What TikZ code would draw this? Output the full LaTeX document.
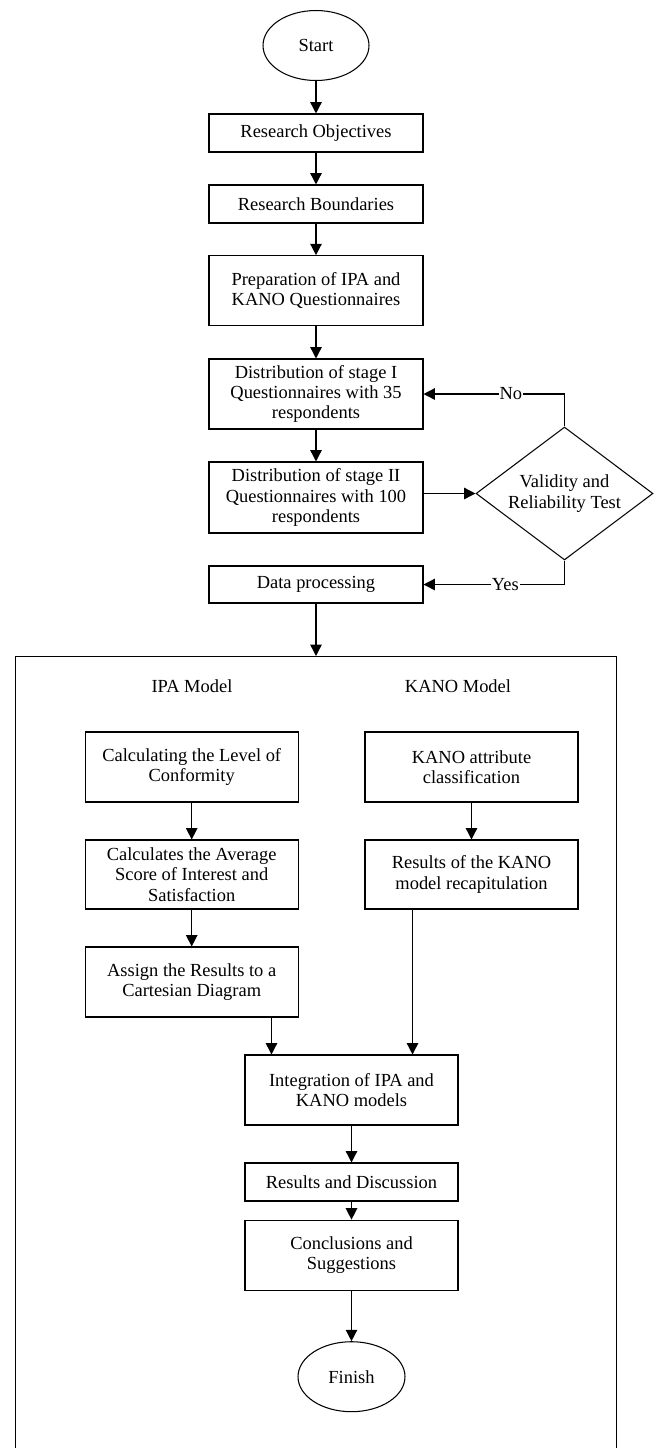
\documentclass[tikz,border=0pt]{standalone}
\usepackage{fontspec}
\setmainfont{Liberation Serif}
\usetikzlibrary{shapes.geometric}
\usetikzlibrary{arrows.meta}

\begin{document}
\begin{tikzpicture}[x=0.02cm,y=-0.02cm]
	\tikzstyle{every node}=[font=\fontsize{10.5}{11.5}\selectfont]
	\tikzstyle{procbox}=[rectangle,draw,line width=0.6pt,minimum width=4.28cm,align=center,inner sep=1pt]
	\tikzstyle{terminal}=[ellipse,draw,line width=0.6pt,minimum width=2.12cm,minimum height=1.4cm]
	\tikzstyle{decision}=[diamond,draw,line width=0.6pt,aspect=1.33,minimum width=3.54cm,minimum height=2.66cm,align=center,inner sep=0pt]
	\tikzstyle{flow}=[-{Triangle[length=6.5pt,width=6.5pt]},line width=0.8pt]
	\tikzstyle{answer}=[fill=white,inner sep=0.5pt]
	\useasboundingbox (0,0) rectangle (654,1448);
	\clip (0,0) rectangle (654,1448);
	% main chain
	\node[terminal] (start) at (316,45.5) {Start};
	\node[procbox,minimum height=0.76cm] (obj) at (316,133) {Research Objectives};
	\node[procbox,minimum height=0.76cm] (bound) at (316,204) {Research Boundaries};
	\node[procbox,minimum height=1.4cm] (prep) at (316,290.7) {Preparation of IPA and\\KANO Questionnaires};
	\node[procbox,minimum height=1.4cm] (distI) at (316,394) {Distribution of stage I\\Questionnaires with 35\\respondents};
	\node[procbox,minimum height=1.42cm] (distII) at (316,497.5) {Distribution of stage II\\Questionnaires with 100\\respondents};
	\node[decision] (test) at (564.5,493.5) {Validity and\\Reliability Test};
	\node[procbox,minimum height=0.74cm] (data) at (316,584.5) {Data processing};
	% frame of the two models
	\node[draw,line width=0.6pt,minimum width=12.04cm,minimum height=16.2cm,anchor=north,inner sep=0pt] (frame) at (316,656) {};
	\node (ipa) at (192,686) {IPA Model};
	\node (kano) at (458,686) {KANO Model};
	\node[procbox,minimum width=4.26cm,minimum height=1.4cm] (conf) at (191.7,767) {Calculating the Level of\\Conformity};
	\node[procbox,minimum width=4.26cm,minimum height=1.38cm] (avg) at (191.7,874.5) {Calculates the Average\\Score of Interest and\\Satisfaction};
	\node[procbox,minimum width=4.26cm,minimum height=1.4cm] (assign) at (191.7,982) {Assign the Results to a\\Cartesian Diagram};
	\node[procbox,minimum width=4.26cm,minimum height=1.4cm] (kattr) at (471.5,767) {KANO attribute\\classification};
	\node[procbox,minimum width=4.26cm,minimum height=1.38cm] (kres) at (471.5,874.5) {Results of the KANO\\model recapitulation};
	\node[procbox,minimum width=4.26cm,minimum height=1.4cm] (integ) at (351.5,1090) {Integration of IPA and\\KANO models};
	\node[procbox,minimum width=4.26cm,minimum height=0.76cm] (resdisc) at (351.5,1182) {Results and Discussion};
	\node[procbox,minimum width=4.26cm,minimum height=1.41cm] (concl) at (351.5,1255.4) {Conclusions and\\Suggestions};
	\node[terminal,minimum width=2.14cm] (finish) at (351.5,1376.7) {Finish};
	% connectors
	\draw[flow] (start) -- (obj);
	\draw[flow] (obj) -- (bound);
	\draw[flow] (bound) -- (prep);
	\draw[flow] (prep) -- (distI);
	\draw[flow] (distI) -- (distII);
	\draw[flow] (distII.east |- test.west) -- (test.west);
	\draw[flow] (test.north) |- (distI.east) node[answer,pos=0.69] {No};
	\draw[flow] (test.south) |- (data.east) node[answer,pos=0.71] {Yes};
	\draw[flow] (data) -- (frame.north);
	\draw[flow] (conf) -- (avg);
	\draw[flow] (avg) -- (assign);
	\draw[flow] (kattr) -- (kres);
	\draw[flow] ([xshift=0.54cm]integ.north west |- assign.south) -- ([xshift=0.54cm]integ.north west);
	\draw[flow] ([xshift=-0.92cm]integ.north east |- kres.south) -- ([xshift=-0.92cm]integ.north east);
	\draw[flow] (integ) -- (resdisc);
	\draw[flow] (resdisc) -- (concl);
	\draw[flow] (concl) -- (finish);
\end{tikzpicture}
\end{document}
